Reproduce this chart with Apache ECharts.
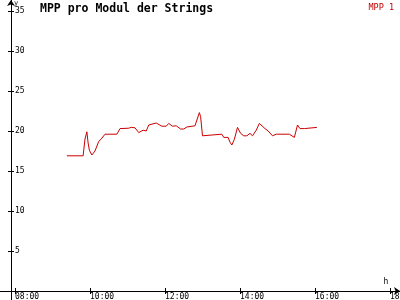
<!DOCTYPE html>
<html>
<head>
<meta charset="utf-8">
<script src="https://cdn.jsdelivr.net/npm/echarts@6/dist/echarts.min.js"></script>
<style>html,body{margin:0;padding:0;background:#fff}#c{width:400px;height:300px}</style>
</head>
<body>
<div id="c"></div>
<script>
var times = ["09:23","09:49","09:52","09:55","09:57","09:59","10:03","10:08","10:14","10:18","10:24","10:43","10:48","11:02","11:06","11:12","11:15","11:18","11:25","11:30","11:34","11:46","11:55","12:02","12:06","12:12","12:18","12:25","12:30","12:35","12:48","12:51","12:55","12:57","13:00","13:02","13:31","13:34","13:41","13:44","13:47","13:51","13:56","14:01","14:06","14:11","14:16","14:20","14:26","14:31","14:40","14:45","14:52","14:58","15:19","15:27","15:32","15:36","15:43","15:46","16:03"];
var mpp1 = [16.9,16.9,19.0,19.9,18.5,17.6,17.0,17.5,18.7,19.0,19.6,19.6,20.3,20.35,20.45,20.4,20.6,19.8,20.1,20.0,20.75,21.0,20.6,20.6,20.95,20.6,20.65,20.25,20.25,20.5,20.65,20.9,22.3,21.8,19.4,19.6,19.6,19.2,19.2,18.6,18.25,18.96,20.45,19.7,19.4,19.4,19.7,19.4,20.1,20.95,20.3,20.0,19.4,19.6,19.6,19.2,20.75,20.3,20.3,20.45,20.45];
var xTicks = [8,10,12,14,16,18];
var yTicks = [5,10,15,20,25,30,35];
var seriesName = "MPP 1";
var title = "MPP pro Modul der Strings";

function toHours(s){var p=s.split(":");return +p[0]+(+p[1])/60;}
var data = times.map(function(t,i){return [toHours(t), mpp1[i]];});
var font = "DejaVu Sans Mono";
function fmtH(v){var h=Math.round(v);return (h<10?"0":"")+h+":00";}

var chart = echarts.init(document.getElementById('c'), null, {renderer:'canvas'});
chart.setOption({
  animation:false,
  backgroundColor:'#ffffff',
  title:{text:title,left:40,top:3,padding:0,textStyle:{fontFamily:font,fontSize:11.5,fontWeight:'bold',color:'#000'}},
  legend:{data:[seriesName],icon:'none',itemWidth:0,right:6,top:1,padding:0,
    textStyle:{fontFamily:font,fontSize:8.5,color:'#c00000'}},
  grid:{left:0,right:0,top:0,bottom:0,containLabel:false,outerBoundsMode:'none'},
  xAxis:[{
    type:'value',min:7.6,max:18.2667,position:'bottom',offset:-9,
    name:'h',nameLocation:'end',nameGap:-14,
    nameTextStyle:{fontFamily:font,fontSize:8,color:'#000',align:'center',verticalAlign:'bottom',padding:[0,0,5,0]},
    axisLine:{show:true,onZero:false,symbol:['none','arrow'],symbolSize:[6,6],lineStyle:{color:'#000',width:1}},
    axisTick:{show:true,inside:false,length:3,customValues:xTicks,lineStyle:{color:'#000'}},
    axisLabel:{show:true,customValues:xTicks,formatter:fmtH,align:'left',margin:2,fontFamily:font,fontSize:8,color:'#000'},
    splitLine:{show:false}
  },{
    type:'value',min:7.6,max:18.2667,position:'bottom',offset:-9,
    axisLine:{show:false,onZero:false},
    axisTick:{show:true,inside:true,length:3,customValues:xTicks,lineStyle:{color:'#000'}},
    axisLabel:{show:false},splitLine:{show:false}
  }],
  yAxis:[{
    type:'value',min:-1.125,max:36.375,position:'left',offset:-11,
    name:'y',nameLocation:'end',nameGap:-1,
    nameTextStyle:{fontFamily:font,fontSize:7,color:'#000',align:'left',verticalAlign:'top',padding:[0,0,0,3]},
    axisLine:{show:true,onZero:false,symbol:['none','arrow'],symbolSize:[6,6],lineStyle:{color:'#000',width:1}},
    axisTick:{show:true,inside:false,length:3,customValues:yTicks,lineStyle:{color:'#000'}},
    axisLabel:{show:true,inside:true,margin:4,customValues:yTicks,fontFamily:font,fontSize:8,color:'#000'},
    splitLine:{show:false}
  },{
    type:'value',min:-1.125,max:36.375,position:'left',offset:-11,
    axisLine:{show:false,onZero:false},
    axisTick:{show:true,inside:true,length:3,customValues:yTicks,lineStyle:{color:'#000'}},
    axisLabel:{show:false},splitLine:{show:false}
  }],
  series:[{
    name:seriesName,type:'line',data:data,showSymbol:false,
    lineStyle:{color:'#cc0000',width:1},itemStyle:{color:'#cc0000'}
  }]
});
</script>
</body>
</html>
